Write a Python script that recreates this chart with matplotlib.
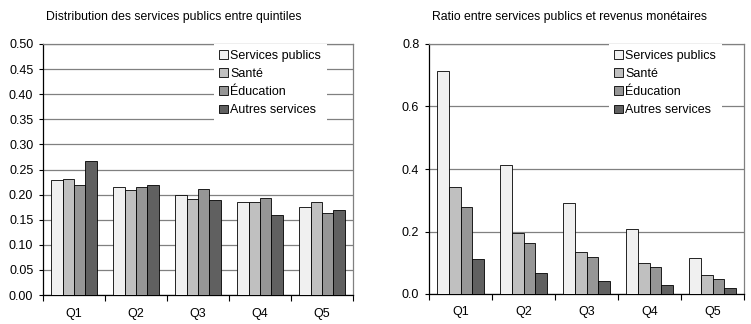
import numpy as np
import matplotlib
matplotlib.use("Agg")
import matplotlib.pyplot as plt

plt.rcParams['font.family'] = ['Liberation Sans', 'DejaVu Sans']

# Data
quintiles = ["Q1", "Q2", "Q3", "Q4", "Q5"]
series = ["Services publics", "Santé", "Éducation", "Autres services"]

distribution = {
    "Services publics": [0.229, 0.216, 0.200, 0.186, 0.176],
    "Santé": [0.232, 0.210, 0.192, 0.186, 0.186],
    "Éducation": [0.220, 0.216, 0.212, 0.194, 0.164],
    "Autres services": [0.267, 0.220, 0.190, 0.159, 0.170],
}
ratio = {
    "Services publics": [0.713, 0.414, 0.291, 0.208, 0.115],
    "Santé": [0.342, 0.195, 0.134, 0.099, 0.061],
    "Éducation": [0.277, 0.163, 0.118, 0.086, 0.048],
    "Autres services": [0.112, 0.067, 0.042, 0.029, 0.020],
}

colors = ["#f0f0f0", "#c0c0c0", "#969696", "#606060"]
titles = ["Distribution des services publics entre quintiles",
          "Ratio entre services publics et revenus monétaires"]

fig = plt.figure(figsize=(7.51, 3.24), dpi=100, facecolor="white")
ax1 = fig.add_axes([43/751, 29/324, 310/751, 251/324])
ax2 = fig.add_axes([429/751, 30/324, 315/751, 250/324])


def draw(ax, data, ymax, ystep, fmt, leg_x, title, title_x):
    x = np.arange(len(quintiles))
    w = 0.184
    for i, s in enumerate(series):
        ax.bar(x + (i - 1.5) * w, data[s], width=w, color=colors[i],
               edgecolor="black", linewidth=0.6, label=s, zorder=3)
    ax.set_xlim(-0.5, len(quintiles) - 0.5)
    ax.set_ylim(0, ymax)
    yt = np.arange(0, ymax + ystep / 2, ystep)
    ax.set_yticks(yt)
    ax.set_yticklabels([fmt.format(v) for v in yt])
    ax.yaxis.grid(True, color="#808080", linewidth=0.9, zorder=0)
    ax.set_xticks(x)
    ax.set_xticklabels(quintiles)
    ax.set_xticks(np.arange(-0.5, len(quintiles)), minor=True)
    ax.tick_params(axis="x", which="major", length=0, pad=9, labelsize=9)
    ax.tick_params(axis="x", which="minor", length=4, width=0.8, direction="out")
    ax.tick_params(axis="y", length=3, width=0.8, pad=4, labelsize=9)
    for side in ["top", "right"]:
        ax.spines[side].set_color("#808080")
        ax.spines[side].set_linewidth(0.9)
    for side in ["left", "bottom"]:
        ax.spines[side].set_color("black")
        ax.spines[side].set_linewidth(0.9)
    leg = ax.legend(loc="upper right", bbox_to_anchor=(leg_x, 1.0),
                    borderaxespad=0.0, frameon=True, fancybox=False,
                    framealpha=1, facecolor="white", edgecolor="none",
                    fontsize=9, handlelength=0.7, handleheight=0.7,
                    handletextpad=0.2, labelspacing=0.5, borderpad=0.45)
    leg.set_zorder(5)
    fig.text(title_x, 1 - 17/324, title, fontsize=8.8, ha="center", va="center")


draw(ax1, distribution, 0.5, 0.05, "{:.2f}", 0.916, titles[0], 174/751)
draw(ax2, ratio, 0.8, 0.2, "{:.1f}", 0.930, titles[1], 569/751)

plt.savefig("out.png", dpi=100)
